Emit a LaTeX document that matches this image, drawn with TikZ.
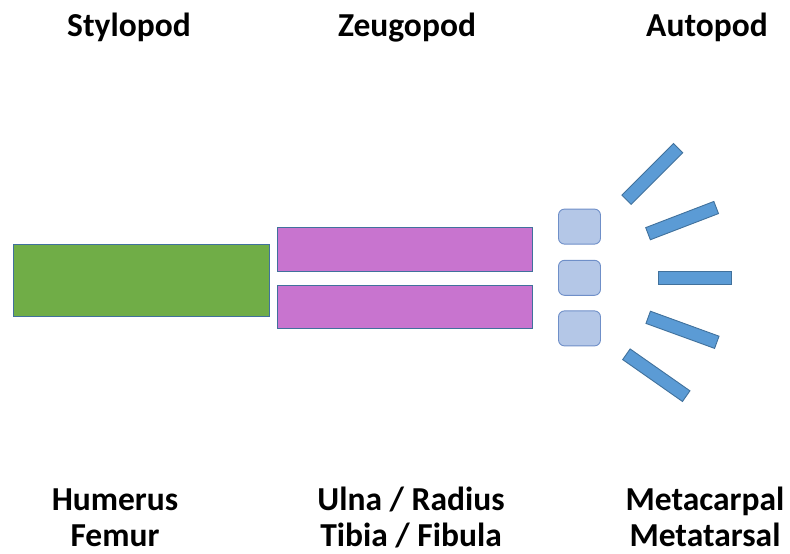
\documentclass[tikz,border=0pt]{standalone}
\usepackage{fontspec}
\setmainfont{Carlito}
\definecolor{stylo}{HTML}{70AD47}
\definecolor{zeugo}{HTML}{C874CF}
\definecolor{carpal}{HTML}{B4C7E7}
\definecolor{carpaledge}{HTML}{6F8FC8}
\definecolor{digit}{HTML}{5B9BD5}
\definecolor{edge}{HTML}{41719C}
\tikzset{
  bone/.style={draw=edge, line width=0.9pt, inner sep=0pt, outer sep=0pt},
  longbone/.style={bone, fill=stylo, minimum width=256pt, minimum height=72pt},
  pairbone/.style={bone, fill=zeugo, minimum width=255pt, minimum height=43.5pt},
  carpalbox/.style={draw=carpaledge, fill=carpal, line width=0.9pt, rounded corners=6pt, minimum width=42pt, minimum height=35pt, inner sep=0pt},
  digitbar/.style={bone, fill=digit, minimum width=73pt, minimum height=13pt},
  lbl/.style={font=\bfseries\fontsize{33.5}{38}\selectfont, anchor=base, inner sep=0pt}
}
\begin{document}
\begin{tikzpicture}[x=1pt,y=-1pt]
\useasboundingbox (0,0) rectangle (790,554);
% top labels
\node[lbl] (sty) at (129,36) {Stylopod};
\node[lbl] (zeu) at (407,36) {Zeugopod};
\node[lbl] (aut) at (707,36) {Autopod};
% stylopod
\node[longbone] (hum) at (141,280) {};
% zeugopod
\node[pairbone] (uln) at (405,249.2) {};
\node[pairbone] (rad) at (405,307) {};
% carpals
\node[carpalbox] (c1) at (579.5,226.6) {};
\node[carpalbox] (c2) at (579.5,277.8) {};
\node[carpalbox] (c3) at (579.5,328.4) {};
% digits
\node[digitbar, rotate=45] (d1) at (652.3,173.9) {};
\node[digitbar, rotate=21] (d2) at (682.1,220.6) {};
\node[digitbar] (d3) at (695,277.8) {};
\node[digitbar, rotate=-20] (d4) at (682.5,329.8) {};
\node[digitbar, rotate=-35] (d5) at (656.3,375.2) {};
% bottom labels
\node[lbl] (l1a) at (115,510.5) {Humerus};
\node[lbl] (l1b) at (115,546.5) {Femur};
\node[lbl] (l2a) at (411,510.5) {Ulna / Radius};
\node[lbl] (l2b) at (411,546.5) {Tibia / Fibula};
\node[lbl] (l3a) at (705,510.5) {Metacarpal};
\node[lbl] (l3b) at (705,546.5) {Metatarsal};
\end{tikzpicture}
\end{document}
